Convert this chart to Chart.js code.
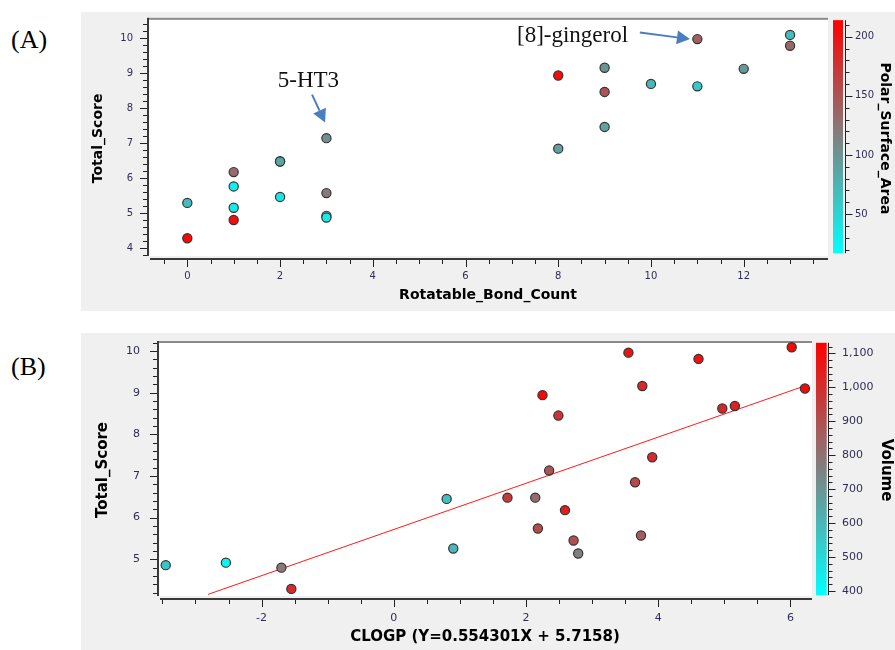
<!DOCTYPE html>
<html><head><meta charset="utf-8">
<script src="https://cdn.jsdelivr.net/npm/chart.js@4.4.1/dist/chart.umd.min.js"></script>
<style>
html,body{margin:0;padding:0;background:#fff;}
body{width:895px;height:650px;position:relative;overflow:hidden;}
.lbl{position:absolute;font-family:"Liberation Serif","DejaVu Serif",serif;font-size:26px;line-height:30px;color:#000;}
canvas{position:absolute;}
</style></head><body>
<div class="lbl" style="left:11px;top:25px">(A)</div>
<div class="lbl" style="left:11px;top:352px">(B)</div>
<canvas id="chartA" width="814" height="299" style="left:81px;top:12px"></canvas>
<canvas id="chartB" width="814" height="317" style="left:81px;top:333px"></canvas>
<script>
// ---------- Panel A data ----------
const rotBonds = [0, 0, 1, 1, 1, 1, 2, 2, 2, 3, 3, 3, 3, 8, 8, 9, 9, 9, 10, 11, 11, 12, 13, 13];
const scoreA   = [5.29, 4.28, 6.17, 5.76, 5.15, 4.80, 6.48, 6.47, 5.46, 7.14, 5.57, 4.92, 4.87, 8.93, 6.84, 9.15, 8.46, 7.46, 8.69, 9.97, 8.62, 9.12, 10.09, 9.78];
const psa      = [70, 210, 132, 30, 35, 205, 85, 85, 38, 105, 122, 110, 35, 205, 90, 100, 150, 88, 75, 140, 60, 95, 70, 135];
// ---------- Panel B data ----------
const clogp    = [-3.45, -2.54, -1.70, -1.55, 0.80, 0.90, 1.72, 2.14, 2.18, 2.25, 2.35, 2.49, 2.59, 2.72, 2.79, 3.55, 3.65, 3.76, 3.74, 3.91, 4.61, 4.97, 5.16, 6.02, 6.22];
const scoreB   = [4.86, 4.92, 4.80, 4.29, 6.45, 5.26, 6.48, 6.48, 5.74, 8.94, 7.13, 8.45, 6.18, 5.45, 5.14, 9.96, 6.85, 9.16, 5.57, 7.45, 9.81, 8.62, 8.68, 10.09, 9.10];
const volume   = [560, 420, 780, 1000, 570, 600, 960, 820, 920, 1110, 890, 980, 1050, 900, 760, 1080, 920, 1020, 860, 1000, 1080, 1030, 1040, 1120, 1110];
const fitSlope = 0.554301, fitIntercept = 5.7158;
const fitRangeX = [-2.81, 6.22];
// ---------- tick labels ----------
const ticksAx = [0, 2, 4, 6, 8, 10, 12];
const ticksAy = [4, 5, 6, 7, 8, 9, 10];
const ticksAc = [50, 100, 150, 200];
const ticksBx = [-2, 0, 2, 4, 6];
const ticksBy = [5, 6, 7, 8, 9, 10];
const ticksBc = [400, 500, 600, 700, 800, 900, 1000, 1100];
const cbRangeA = [17, 214];
const cbRangeB = [388, 1131];

const CY=[0,255,255], GR=[128,128,128], RD=[255,0,0];
function mix(a,b,s){return a.map((v,i)=>Math.round(v+(b[i]-v)*s));}
function cmap(v,min,max){
  let t=(v-min)/(max-min); t=Math.max(0,Math.min(1,t));
  const c = t<0.5 ? mix(CY,GR,t*2) : mix(GR,RD,(t-0.5)*2);
  return 'rgb('+c[0]+','+c[1]+','+c[2]+')';
}
function isIn(v,arr){return arr.some(a=>Math.abs(a-v)<1e-6);}

function arrow(ctx,x0,y0,x1,y1){
  const ang=Math.atan2(y1-y0,x1-x0), L=13, W=7;
  const bx=x1-L*Math.cos(ang), by=y1-L*Math.sin(ang);
  ctx.strokeStyle='#4a7ebf'; ctx.fillStyle='#4a7ebf'; ctx.lineWidth=2;
  ctx.beginPath(); ctx.moveTo(x0,y0); ctx.lineTo(bx,by); ctx.stroke();
  ctx.beginPath(); ctx.moveTo(x1,y1);
  ctx.lineTo(bx+W*Math.sin(ang), by-W*Math.cos(ang));
  ctx.lineTo(bx-W*Math.sin(ang), by+W*Math.cos(ang));
  ctx.closePath(); ctx.fill();
}

const decor = {
  id:'decor',
  beforeDraw(chart,args,o){
    const {ctx, chartArea:a, width, height} = chart;
    ctx.save();
    ctx.fillStyle='#f0f0f0'; ctx.fillRect(0,0,width,height);
    ctx.fillStyle='#ffffff'; ctx.fillRect(a.left+1, a.top, a.right-a.left-1, a.bottom-a.top-3);
    ctx.fillStyle='#8a8a8a'; ctx.fillRect(a.left, a.top, a.right-a.left, 2);
    ctx.restore();
  },
  afterDraw(chart,args,o){
    const {ctx, chartArea:a, scales} = chart;
    const xs=scales.x, ys=scales.y, cs=scales.c;
    ctx.save();
    ctx.fillStyle='#3a3a3a';
    ctx.fillRect(a.left-1, a.top, 2, a.bottom-3-a.top);
    ctx.fillRect(a.left+2, a.bottom-1, a.right-a.left-2, 2);
    ctx.strokeStyle='#222'; ctx.lineWidth=1;
    // y ticks
    let n=Math.round((o.yR[1]-o.yR[0])/o.yStep);
    for(let i=0;i<=n;i++){
      const v=o.yR[0]+i*o.yStep, py=Math.round(ys.getPixelForValue(v))+0.5;
      const len=isIn(v,o.yMaj)?7:4;
      ctx.beginPath(); ctx.moveTo(a.left-1-len,py); ctx.lineTo(a.left-1,py); ctx.stroke();
    }
    // x ticks
    n=Math.round((o.xR[1]-o.xR[0])/o.xStep);
    for(let i=0;i<=n;i++){
      const v=o.xR[0]+i*o.xStep, px=Math.round(xs.getPixelForValue(v))+0.5;
      const len=isIn(v,o.xMaj)?7:4;
      ctx.beginPath(); ctx.moveTo(px,a.bottom+1); ctx.lineTo(px,a.bottom+1+len); ctx.stroke();
    }
    // colour bar
    const cb=o.cb;
    const x0=a.right+cb.gap, top=cs.getPixelForValue(cb.range[1]), bot=cs.getPixelForValue(cb.range[0]);
    const g=ctx.createLinearGradient(0,bot,0,top);
    g.addColorStop(0,'rgb(0,255,255)'); g.addColorStop(0.5,'rgb(128,128,128)'); g.addColorStop(1,'rgb(255,0,0)');
    ctx.fillStyle=g; ctx.fillRect(x0,top,cb.w,bot-top);
    const ax=Math.round(x0+cb.w+cb.axGap)+0.5;
    ctx.strokeStyle='#222';
    ctx.beginPath(); ctx.moveTo(ax,top); ctx.lineTo(ax,bot); ctx.stroke();
    n=Math.round((cb.tR[1]-cb.tR[0])/cb.step);
    for(let i=0;i<=n;i++){
      const v=cb.tR[0]+i*cb.step, py=Math.round(cs.getPixelForValue(v))+0.5;
      const len=isIn(v,cb.maj)?7:4;
      ctx.beginPath(); ctx.moveTo(ax,py); ctx.lineTo(ax+len,py); ctx.stroke();
    }
    // annotations
    (o.notes||[]).forEach(nt=>{
      ctx.font='23px "Liberation Serif", serif'; ctx.fillStyle='#111';
      ctx.textBaseline='alphabetic'; ctx.textAlign='left';
      ctx.fillText(nt.text, xs.getPixelForValue(nt.tx), ys.getPixelForValue(nt.ty));
      arrow(ctx, xs.getPixelForValue(nt.a[0]), ys.getPixelForValue(nt.a[1]), xs.getPixelForValue(nt.a[2]), ys.getPixelForValue(nt.a[3]));
    });
    ctx.restore();
  }
};

function tickFont(sz){return {family:'"DejaVu Sans", sans-serif', size:sz};}
function titleFont(sz){return {family:'"DejaVu Sans", sans-serif', size:sz, weight:'bold'};}
const TC='#2e2e55';

function makeChart(id, cfg){
  return new Chart(document.getElementById(id), {
    type:'scatter',
    data:{datasets:cfg.datasets},
    plugins:[decor],
    options:{
      responsive:false, animation:false, events:[],
      layout:{padding:{top:cfg.padTop,left:0,right:0,bottom:0}},
      plugins:{legend:{display:false}, tooltip:{enabled:false}, decor:cfg.decor},
      scales:{
        x:{type:'linear', min:cfg.x.min, max:cfg.x.max, position:'bottom',
           grid:{display:false, drawTicks:true, tickLength:8}, border:{display:false},
           afterBuildTicks:s=>{s.ticks=cfg.x.ticks.map(v=>({value:v}));},
           ticks:{font:tickFont(cfg.tsz), color:TC, padding:cfg.x.pad, maxRotation:0, autoSkip:false},
           title:{display:true, text:cfg.x.title, color:'#000', font:titleFont(cfg.hsz), padding:{top:0,bottom:cfg.x.tpad}},
           afterFit:s=>{s.height=cfg.x.h; s.paddingLeft=0; s.paddingRight=0;}},
        y:{type:'linear', min:cfg.y.min, max:cfg.y.max, position:'left',
           grid:{display:false, drawTicks:true, tickLength:8}, border:{display:false},
           afterBuildTicks:s=>{s.ticks=cfg.y.ticks.map(v=>({value:v}));},
           ticks:{font:tickFont(cfg.tsz), color:TC, padding:cfg.y.pad, autoSkip:false},
           title:{display:true, text:'Total_Score', color:'#000', font:titleFont(cfg.hsz), padding:{top:cfg.y.tpad,bottom:0}},
           afterFit:s=>{s.width=cfg.y.w; s.paddingTop=0; s.paddingBottom=0;}},
        c:{type:'linear', min:cfg.c.min, max:cfg.c.max, position:'right',
           grid:{display:false, drawTicks:true, tickLength:cfg.c.tl}, border:{display:false},
           afterBuildTicks:s=>{s.ticks=cfg.c.ticks.map(v=>({value:v}));},
           ticks:{font:tickFont(cfg.tsz), color:TC, padding:cfg.c.pad, autoSkip:false, callback:v=>Number(v).toLocaleString('en-US')},
           title:{display:true, text:cfg.c.title, color:'#000', font:titleFont(cfg.hsz), padding:{top:cfg.c.tpad,bottom:0}},
           afterFit:s=>{s.width=cfg.c.w; s.paddingTop=0; s.paddingBottom=0;}}
      }
    }
  });
}

const ptStyle = {pointRadius:4.6, pointBorderWidth:1.2, pointBorderColor:'#333', pointHoverRadius:4.6};

makeChart('chartA', {
  padTop:5, tsz:10, hsz:14,
  datasets:[Object.assign({
    data:rotBonds.map((x,i)=>({x:x, y:scoreA[i]})),
    pointBackgroundColor:psa.map(v=>cmap(v,cbRangeA[0],cbRangeA[1])), order:1
  }, ptStyle)],
  x:{min:-0.848, max:13.818, ticks:ticksAx, pad:3, title:'Rotatable_Bond_Count', tpad:7.6, h:52},
  y:{min:3.687, max:10.578, ticks:ticksAy, pad:7, tpad:8.6, w:67},
  c:{min:12.08, max:216.0, ticks:ticksAc, pad:3, tl:24, title:'Polar_Surface_Area', tpad:1.6, w:67},
  decor:{
    yR:[3.8,10.4], yStep:0.2, yMaj:ticksAy,
    xR:[-0.5,13.5], xStep:0.5, xMaj:ticksAx,
    cb:{gap:5, w:10, axGap:1.7, range:cbRangeA, tR:[20,210], step:10, maj:ticksAc},
    notes:[
      {text:'5-HT3', tx:1.95, ty:8.613, a:[2.69, 8.385, 2.97, 7.588]},
      {text:'[8]-gingerol', tx:7.11, ty:9.874, a:[9.76, 10.16, 10.84, 9.97]}
    ]
  }
});

makeChart('chartB', {
  padTop:8, tsz:11, hsz:15,
  datasets:[
    Object.assign({
      data:clogp.map((x,i)=>({x:x, y:scoreB[i]})),
      pointBackgroundColor:volume.map(v=>cmap(v,cbRangeB[0],cbRangeB[1])), order:1
    }, ptStyle),
    {type:'line', data:fitRangeX.map(x=>({x:x, y:fitSlope*x+fitIntercept})),
     borderColor:'#ff1a1a', borderWidth:1, pointRadius:0, showLine:true, fill:false, order:2}
  ],
  x:{min:-3.567, max:6.327, ticks:ticksBx, pad:5, title:'CLOGP (Y=0.554301X + 5.7158)', tpad:4, h:51},
  y:{min:4.047, max:10.24, ticks:ticksBy, pad:10, tpad:13, w:77},
  c:{min:376.4, max:1136.2, ticks:ticksBc, pad:4, tl:26, title:'Volume', tpad:0, w:83},
  decor:{
    yR:[4.2,10.2], yStep:0.2, yMaj:ticksBy,
    xR:[-3.5,6.0], xStep:0.5, xMaj:ticksBx,
    cb:{gap:4, w:10.7, axGap:1.6, range:cbRangeB, tR:[400,1120], step:20, maj:ticksBc}
  }
});
</script>
</body></html>
